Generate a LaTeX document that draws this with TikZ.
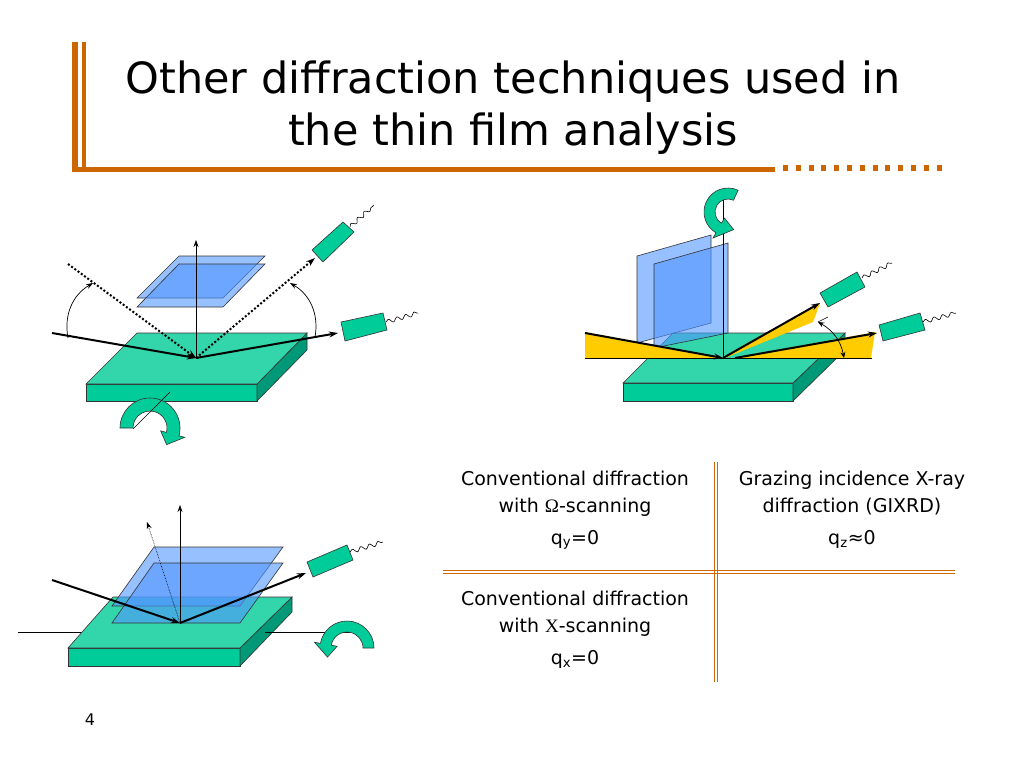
\documentclass[tikz,border=0pt]{standalone}
\usepackage{fontspec}
\setmainfont{DejaVu Sans}
\newfontfamily\serifsym{Liberation Serif}
\usetikzlibrary{arrows.meta,decorations.pathmorphing}
\definecolor{slabtop}{RGB}{51,214,170}
\definecolor{slabfront}{RGB}{0,204,153}
\definecolor{slabside}{RGB}{0,153,119}
\definecolor{plane}{RGB}{80,150,255}
\definecolor{beamyel}{RGB}{255,204,0}
\definecolor{orng}{RGB}{204,102,0}
\tikzset{
 edge/.style={draw=black!80,line width=0.6pt},
 beam/.style={line width=2pt,-{Stealth[length=9pt,width=6pt]}},
 dotbeam/.style={line width=2pt,dotted,-{Stealth[length=9pt,width=6pt]}},
 thinarr/.style={line width=0.7pt,-{Stealth[length=7pt,width=5pt]}},
 pl/.style={edge,fill=plane,fill opacity=0.6},
 det/.style={edge,fill=slabfront},
 wave/.style={line width=0.6pt,decorate,decoration={snake,segment length=9pt,amplitude=2pt}},
 tabtxt/.style={font=\fontsize{19}{27}\selectfont,align=center},
 rot/.style={edge,fill=slabfront}
}
\newcommand{\rotarrow}[7]{% cx cy ro ri start end tip
 \pgfmathsetmacro\rA{#3+6}\pgfmathsetmacro\rB{#4-6}\pgfmathsetmacro\rM{(#3+#4)/2}
 \path[rot,shift={(#1,#2)}] (#5:#3) arc[start angle=#5,end angle=#6,radius=#3] -- (#6:\rA) -- (#7:\rM) -- (#6:\rB) -- (#6:#4) arc[start angle=#6,end angle=#5,radius=#4] -- cycle;}
\begin{document}
\begin{tikzpicture}[x=1pt,y=-1pt]
\useasboundingbox[fill=white] (0,0) rectangle (1024,768);
% title decoration
\fill[orng] (72,42) rectangle (78,172);
\fill[orng] (82,42) rectangle (86,168);
\fill[orng] (72,167) rectangle (775,172);
\foreach \i in {0,...,12} \fill[orng] ({783+\i*12.8},165) rectangle ({788+\i*12.8},171);
\node[font=\fontsize{43}{52}\selectfont,align=center] (title) at (513,108) {Other diffraction techniques used in\\the thin film analysis};
% ===== top-left =====
\draw[edge,fill=slabfront] (86,384) -- (257,384) -- (257,401) -- (86,401) -- cycle;
\draw[edge,fill=slabside] (257,384) -- (307,333) -- (307,350) -- (257,401) -- cycle;
\draw[edge,fill=slabtop] (137,333) -- (307,333) -- (257,384) -- (86,384) -- cycle;
\rotarrow{150}{428}{30}{17}{180}{375}{405}
\draw[line width=0.5pt] (133,429) -- (170,392);
\draw[pl] (179,256) -- (265,256) -- (223,298) -- (137,298) -- cycle;
\draw[pl] (179,264) -- (265,264) -- (223,307) -- (137,307) -- cycle;
\coordinate (o1) at (196,358);
\draw[thinarr] (o1) -- (196,240);
\draw[dotbeam] (68,264) -- (o1);
\draw[dotbeam] (o1) -- (315,258);
\draw[beam] (52,333) -- (o1);
\draw[beam] (o1) -- (338,333);
\draw[thinarr] (68,338) to[bend left=35] (93,283);
\draw[thinarr] (315,337) to[bend right=35] (290,283);
\draw[det] (312,250) -- (343,222) -- (354,232) -- (323,262) -- cycle;
\draw[wave] (350,227) -- (374,205);
\draw[det] (341,322) -- (383,313) -- (387,330) -- (345,341) -- cycle;
\draw[wave] (386,322) -- (418,313);
% ===== top-right =====
\draw[edge,fill=slabfront] (623,383) -- (793,383) -- (793,401) -- (623,401) -- cycle;
\draw[edge,fill=slabside] (793,383) -- (845,333) -- (845,350) -- (793,401) -- cycle;
\draw[edge,fill=slabtop] (673,333) -- (845,333) -- (793,383) -- (623,383) -- cycle;
\draw[pl] (637,256) -- (711,235) -- (711,323) -- (637,343) -- cycle;
\draw[pl] (654,264) -- (728,243) -- (728,333) -- (654,348) -- cycle;
\fill[beamyel] (585,332) -- (720,358) -- (585,358) -- cycle;
\fill[beamyel] (735,358) -- (875,332) -- (871,358) -- cycle;
\fill[beamyel] (725,358) -- (820,303) -- (813,322) -- cycle;
\draw[line width=0.8pt] (585,358) -- (872,358);
\draw[line width=0.5pt] (723,190) -- (723,358);
\rotarrow{728}{212}{24}{13}{295}{120}{72}
\coordinate (o2) at (723,358);
\draw[beam] (585,333) -- (o2);
\draw[beam] (o2) -- (820,303);
\draw[beam] (735,358) -- (877,333);
\draw[line width=0.5pt] (818,322) -- (828,317);
\draw[line width=0.7pt,{Stealth[length=6pt,width=5pt]}-{Stealth[length=6pt,width=5pt]}] (818,322) to[bend left=25] (844,358);
\draw[det] (820,293) -- (857,272) -- (865,287) -- (828,307) -- cycle;
\draw[wave] (862,278) -- (892,263);
\draw[det] (879,325) -- (920,313) -- (925,330) -- (883,341) -- cycle;
\draw[wave] (923,322) -- (956,313);
% ===== bottom-left =====
\draw[line width=0.5pt] (18,632) -- (350,632);
\draw[edge,fill=slabfront] (68,648) -- (240,648) -- (240,666) -- (68,666) -- cycle;
\draw[edge,fill=slabside] (240,648) -- (292,597) -- (292,612) -- (240,666) -- cycle;
\draw[edge,fill=slabtop] (113,597) -- (292,597) -- (240,648) -- (68,648) -- cycle;
\draw[line width=0.5pt] (265,632) -- (292,632);
\draw[pl] (154,547) -- (283,547) -- (240,606) -- (112,606) -- cycle;
\draw[pl] (154,563) -- (283,563) -- (240,623) -- (112,623) -- cycle;
\coordinate (o3) at (180,623);
\draw[thinarr] (o3) -- (180,505);
\draw[line width=0.6pt,densely dotted,-{Stealth[length=7pt,width=5pt]}] (o3) -- (147,522);
\draw[beam] (52,580) -- (o3);
\draw[beam] (o3) -- (306,573);
\draw[det] (307,562) -- (347,545) -- (353,560) -- (313,577) -- cycle;
\draw[wave] (350,552) -- (383,542);
\rotarrow{347}{648}{27}{16}{0}{-170}{-205}
% ===== table =====
\foreach \d in {0,3} {
 \draw[orng,line width=0.7pt] (443,{570+\d}) -- (955,{570+\d});
 \draw[orng,line width=0.7pt] ({714+\d},462) -- ({714+\d},682);
}
\node[tabtxt] (t1) at (575,510) {Conventional diffraction\\with {\serifsym Ω}-scanning\\[5pt]q\textsubscript{y}=0};
\node[tabtxt] (t2) at (852,510) {Grazing incidence X-ray\\diffraction (GIXRD)\\[5pt]q\textsubscript{z}≈0};
\node[tabtxt] (t3) at (575,630) {Conventional diffraction\\with {\serifsym Χ}-scanning\\[5pt]q\textsubscript{x}=0};
\node[font=\fontsize{16}{18}\selectfont] (pg) at (90,720) {4};
\end{tikzpicture}
\end{document}
